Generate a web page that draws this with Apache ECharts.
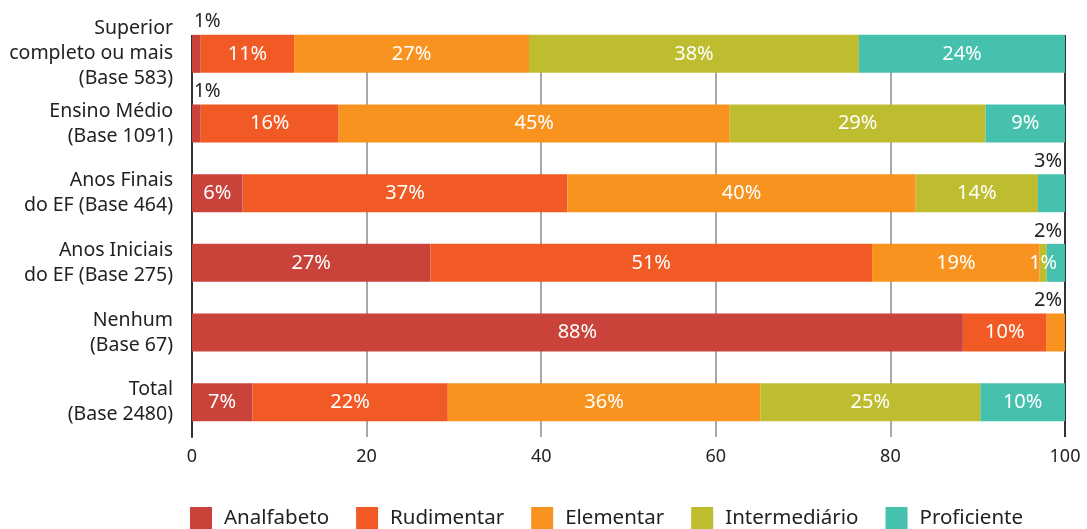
<!DOCTYPE html>
<html>
<head>
<meta charset="utf-8">
<script src="https://cdn.jsdelivr.net/npm/echarts@6/dist/echarts.min.js"></script>
<style>html,body{margin:0;padding:0;background:#fff}#c{width:1087px;height:529px}</style>
</head>
<body>
<div id="c"></div>
<script>
const categories = ['Superior\ncompleto ou mais\n(Base 583)', 'Ensino Médio\n(Base 1091)', 'Anos Finais\ndo EF (Base 464)', 'Anos Iniciais\ndo EF (Base 275)', 'Nenhum\n(Base 67)', 'Total\n(Base 2480)'];
const seriesNames = ['Analfabeto', 'Rudimentar', 'Elementar', 'Intermediário', 'Proficiente'];
const analfabeto = [1.0, 1.0, 5.8, 27.3, 88.3, 6.9];
const rudimentar = [10.7, 15.8, 37.2, 50.6, 9.6, 22.4];
const elementar = [26.9, 44.8, 39.9, 19.2, 2.1, 35.8];
const intermediario = [37.8, 29.3, 14.0, 0.8, 0, 25.2];
const proficiente = [23.6, 9.1, 3.1, 2.1, 0, 9.7];
const xTicks = [0, 20, 40, 60, 80, 100];
const colors = ['#C9433A', '#F15A24', '#F7931E', '#BEBD30', '#45C1AE'];

const allSeries = [analfabeto, rudimentar, elementar, intermediario, proficiente];
const FONT = 'Noto Sans';

function lastNonZero(row) {
  let last = -1;
  for (let s = 0; s < allSeries.length; s++) if (allSeries[s][row] > 0) last = s;
  return last;
}

const series = allSeries.map((vals, s) => ({
  name: seriesNames[s],
  type: 'bar',
  stack: 'total',
  barWidth: 38,
  itemStyle: { color: colors[s] },
  label: {
    show: true,
    position: 'inside',
    color: '#fff',
    fontSize: 20,
    fontFamily: FONT,
    formatter: p => p.value > 0 ? Math.round(p.value) + '%' : ''
  },
  data: vals.map((v, row) => {
    const item = { value: v };
    if (v > 0 && v < 3.5) {
      if (s === 0) {
        item.label = { position: [2, -13], align: 'left', verticalAlign: 'middle', color: '#222', fontSize: 19 };
      } else if (s === lastNonZero(row)) {
        item.label = { position: ['100%', -13], align: 'right', verticalAlign: 'middle', color: '#222', fontSize: 20, offset: [-3, 0] };
      }
    }
    return item;
  })
}));

const yData = categories.map((c, i) => i === 0 ? { value: c, textStyle: { padding: [0, 0, 10, 0] } } : c);

const chart = echarts.init(document.getElementById('c'), null, { renderer: 'canvas' });
chart.setOption({
  animation: false,
  backgroundColor: '#fff',
  textStyle: { fontFamily: FONT },
  grid: { left: 192, right: 22, top: 19, bottom: 92, containLabel: false },
  xAxis: {
    type: 'value',
    min: 0,
    max: 100,
    interval: 20,
    axisLine: { show: false },
    axisTick: { show: false },
    axisLabel: { fontSize: 18, color: '#222', fontFamily: FONT, margin: 11 },
    splitLine: { show: true, lineStyle: { color: ['#333', '#a8a8a8', '#a8a8a8', '#a8a8a8', '#a8a8a8', '#333'], width: 2 } }
  },
  yAxis: {
    type: 'category',
    inverse: true,
    data: yData,
    axisLine: { show: true, lineStyle: { color: '#333', width: 2 } },
    axisTick: { show: false },
    axisLabel: { fontSize: 19.5, color: '#222', fontFamily: FONT, margin: 19, lineHeight: 25, align: 'right' }
  },
  legend: {
    data: seriesNames,
    top: 507,
    left: 190,
    padding: 0,
    icon: 'rect',
    itemWidth: 22,
    itemHeight: 22,
    itemGap: 27,
    textStyle: { fontSize: 20.5, color: '#222', fontFamily: FONT, padding: [0, 0, 0, 7] }
  },
  graphic: [{
    type: 'rect',
    z: 1,
    shape: { x: 180, y: 0, width: 900, height: 35 },
    style: { fill: '#fff' }
  }],
  series: series
});
</script>
</body>
</html>
